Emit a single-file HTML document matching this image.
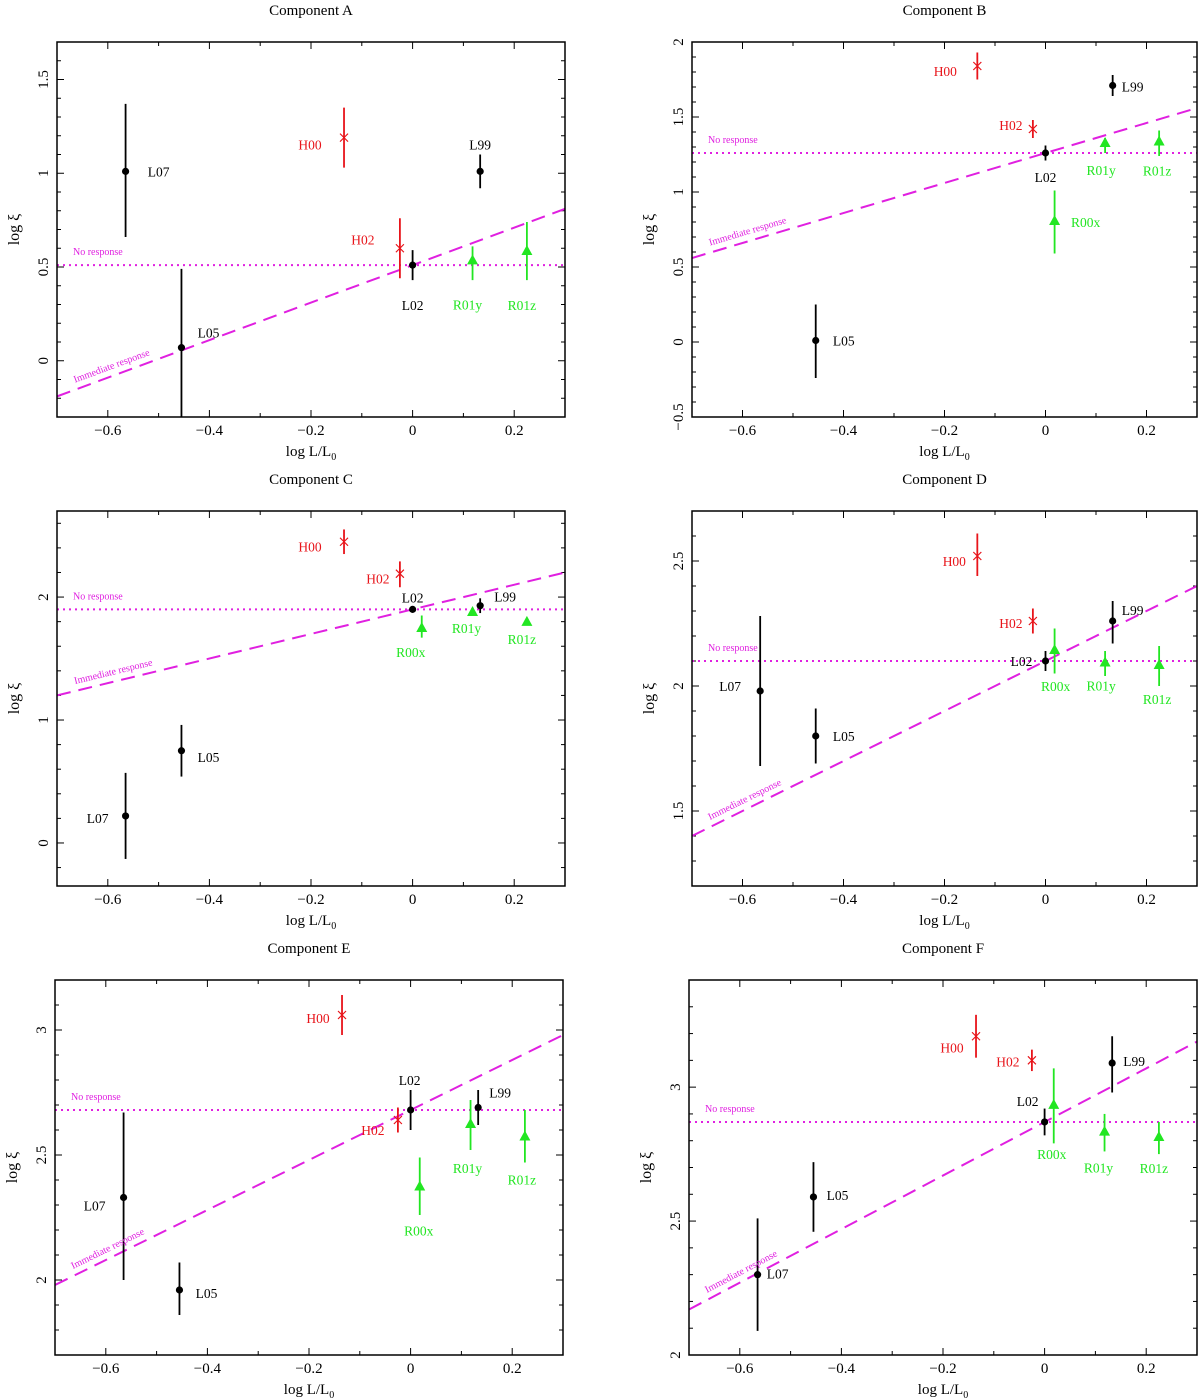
<!DOCTYPE html>
<html><head><meta charset="utf-8"><style>
html,body{margin:0;padding:0;background:#fff;}
svg{display:block;font-family:"Liberation Serif",serif;}
</style></head><body>
<svg id="chart" width="1200" height="1400" viewBox="0 0 1200 1400" xmlns="http://www.w3.org/2000/svg"></svg>
<script>
// ---- data ----
const sources = ['L07','L05','H00','H02','L02','L99','R00x','R01y','R01z'];
const xVals = [-0.565,-0.455,-0.135,-0.025,0,0.133,0.018,0.118,0.225];
const panelTitles = ['Component A','Component B','Component C','Component D','Component E','Component F'];
const yA = [1.01,0.07,1.19,0.60,0.51,1.01,null,0.53,0.58];
const loA = [0.66,-0.35,1.03,0.44,0.43,0.92,null,0.43,0.43];
const hiA = [1.37,0.49,1.35,0.76,0.59,1.10,null,0.61,0.74];
const yB = [null,0.01,1.84,1.42,1.26,1.71,0.80,1.32,1.33];
const loB = [null,-0.24,1.75,1.36,1.21,1.64,0.59,1.26,1.24];
const hiB = [null,0.25,1.93,1.48,1.31,1.78,1.01,1.36,1.41];
const yC = [0.22,0.75,2.45,2.19,1.90,1.93,1.74,1.87,1.79];
const loC = [-0.13,0.54,2.35,2.08,1.90,1.87,1.67,1.87,1.79];
const hiC = [0.57,0.96,2.55,2.29,1.90,1.99,1.85,1.87,1.79];
const yD = [1.98,1.80,2.52,2.26,2.10,2.26,2.14,2.09,2.08];
const loD = [1.68,1.69,2.44,2.21,2.06,2.17,2.05,2.04,2.00];
const hiD = [2.28,1.91,2.61,2.31,2.14,2.34,2.23,2.14,2.16];
const yE = [2.33,1.96,3.06,2.64,2.68,2.69,2.37,2.62,2.57];
const loE = [2.00,1.86,2.98,2.59,2.60,2.62,2.26,2.52,2.47];
const hiE = [2.67,2.07,3.14,2.69,2.76,2.76,2.49,2.72,2.68];
const yF = [2.30,2.59,3.19,3.10,2.87,3.09,2.93,2.83,2.81];
const loF = [2.09,2.46,3.11,3.06,2.82,2.98,2.79,2.76,2.75];
const hiF = [2.51,2.72,3.27,3.14,2.92,3.19,3.07,2.90,2.87];
const noResponse = [0.51,1.26,1.90,2.10,2.68,2.87];
const immediateSlope = [1,1,1,1,1,1];
const xTicks = [-0.6,-0.4,-0.2,0,0.2];
const xTickLabels = ['\u22120.6','\u22120.4','\u22120.2','0','0.2'];
const yTicksA = [0,0.5,1,1.5], yTicksB = [-0.5,0,0.5,1,1.5,2], yTicksC = [0,1,2];
const yTicksD = [1.5,2,2.5], yTicksE = [2,2.5,3], yTicksF = [2,2.5,3];

// ---- layout (not data) ----
const panels = [
 {L:57,R:565,T:42,B:417,ymin:-0.3,ymax:1.7,minorY:0.1,ys:yA,lo:loA,hi:hiA,yt:yTicksA,
  off:[[33,0],[27,-15],[-34,7],[-37,-9],[0,40],[0,-27],null,[-5,43],[-5,53]]},
 {L:692,R:1197,T:42,B:417,ymin:-0.5,ymax:2.0,minorY:0.1,ys:yB,lo:loB,hi:hiB,yt:yTicksB,
  off:[null,[28,0],[-32,5],[-22,-4],[0,24],[20,1],[31,0],[-4,26],[-2,28]]},
 {L:57,R:565,T:511,B:886,ymin:-0.35,ymax:2.7,minorY:0.2,ys:yC,lo:loC,hi:hiC,yt:yTicksC,
  off:[[-28,2],[27,6],[-34,5],[-22,5],[0,-12],[25,-9],[-11,23],[-6,15],[-5,16]]},
 {L:692,R:1197,T:511,B:886,ymin:1.2,ymax:2.7,minorY:0.1,ys:yD,lo:loD,hi:hiD,yt:yTicksD,
  off:[[-30,-5],[28,0],[-23,5],[-22,2],[-24,0],[20,-11],[1,35],[-4,22],[-2,33]]},
 {L:55,R:563,T:980,B:1355,ymin:1.7,ymax:3.2,minorY:0.1,ys:yE,lo:loE,hi:hiE,yt:yTicksE,
  off:[[-29,8],[27,3],[-24,3],[-25,10],[-1,-30],[22,-15],[-1,43],[-3,43],[-3,42]]},
 {L:689,R:1197,T:980,B:1355,ymin:2.0,ymax:3.4,minorY:0.1,ys:yF,lo:loF,hi:hiF,yt:yTicksF,
  off:[[20,-1],[24,-2],[-24,11],[-24,1],[-17,-21],[22,-2],[-2,48],[-6,35],[-5,30]]}
];
const NS='http://www.w3.org/2000/svg';
const svg=document.getElementById('chart');
function mk(tag,attrs,parent){const e=document.createElementNS(NS,tag);for(const k in attrs)e.setAttribute(k,attrs[k]);(parent||svg).appendChild(e);return e;}
function colorOf(s){return s[0]==='L'?'#000':(s[0]==='H'?'#e8141a':'#22e622');}
const letters='ABCDEF';
panels.forEach((p,pi)=>{
  const g=mk('g',{});
  
  
  const sx=v=>p.L+(v+0.7)/1.0*(p.R-p.L);
  const sy=v=>p.B-(v-p.ymin)/(p.ymax-p.ymin)*(p.B-p.T);
  const cy=v=>Math.max(p.T,Math.min(p.B,sy(v)));
  const cx=(p.L+p.R)/2;
  const t=mk('text',{x:cx,y:p.T-27,'text-anchor':'middle','font-size':15},g);t.textContent=panelTitles[pi];
  
  
  for(let i=-7;i<=3;i++){const v=i/10;const x=sx(v);const major=Math.abs(i%2)===0;const len=major?7:4;
    mk('line',{x1:x,y1:p.B,x2:x,y2:p.B-len,stroke:'#000','stroke-width':1},g);
    mk('line',{x1:x,y1:p.T,x2:x,y2:p.T+len,stroke:'#000','stroke-width':1},g);}
  const start=Math.ceil(p.ymin/p.minorY-1e-6);
  for(let i=start;i*p.minorY<=p.ymax+1e-6;i++){const v=i*p.minorY;const y=sy(v);
    const major=p.yt.some(tv=>Math.abs(tv-v)<1e-6);const len=major?7:4;
    mk('line',{x1:p.L,y1:y,x2:p.L+len,y2:y,stroke:'#000','stroke-width':1},g);
    mk('line',{x1:p.R,y1:y,x2:p.R-len,y2:y,stroke:'#000','stroke-width':1},g);}
  xTicks.forEach((v,i)=>{const tx=mk('text',{x:sx(v),y:p.B+18,'text-anchor':'middle','font-size':15},g);tx.textContent=xTickLabels[i];
    
    });
  p.yt.forEach(v=>{const y=sy(v);const ty=mk('text',{x:0,y:0,'text-anchor':'middle','font-size':15,transform:`translate(${p.L-9},${y}) rotate(-90)`},g);
    ty.textContent=String(v).replace('-','\u2212');
    
    });
  const xt=mk('text',{x:cx,y:p.B+39,'text-anchor':'middle','font-size':15},g);
  xt.innerHTML='log L/L<tspan font-size="10" dy="4">0</tspan>';
  
  
  const yt=mk('text',{x:0,y:0,'text-anchor':'middle','font-size':16,transform:`translate(${p.L-38},${(p.T+p.B)/2}) rotate(-90)`},g);
  yt.textContent='log \u03BE';
  
  
  const cid='clip'+pi;const cp=mk('clipPath',{id:cid},g);mk('rect',{x:p.L,y:p.T,width:p.R-p.L,height:p.B-p.T},cp);
  const plot=mk('g',{'clip-path':`url(#${cid})`},g);
  const nr=noResponse[pi];
  const nl=mk('line',{x1:p.L,y1:sy(nr),x2:p.R,y2:sy(nr),stroke:'#e020e0','stroke-width':2,'stroke-dasharray':'2,4'},plot);
  
  
  const nt=mk('text',{x:p.L+16,y:sy(nr)-10,'font-size':10,fill:'#e020e0'},g);nt.textContent='No response';
  
  
  const s=immediateSlope[pi];const f=x=>s*x+nr;
  const il=mk('line',{x1:sx(-0.7),y1:sy(f(-0.7)),x2:sx(0.3),y2:sy(f(0.3)),stroke:'#e020e0','stroke-width':2,'stroke-dasharray':'14,8'},plot);
  
  
  const ang=Math.atan2(sy(f(-0.7))-sy(f(0.3)),sx(0.3)-sx(-0.7))*180/Math.PI;
  const x0=p.L+18;const xv=-0.7+(x0-p.L)/(p.R-p.L);
  const it=mk('text',{x:0,y:0,'font-size':10,fill:'#e020e0',transform:`translate(${x0},${sy(f(xv))-7}) rotate(${-ang})`},g);
  it.textContent='Immediate response';
  
  
  sources.forEach((src,i)=>{
    const yv=p.ys[i];if(yv===null)return;
    const c=colorOf(src);const X=sx(xVals[i]);const Y=sy(yv);
    const pg=mk('g',{},plot);
    
    
    mk('line',{x1:X,y1:cy(p.lo[i]),x2:X,y2:cy(p.hi[i]),stroke:c,'stroke-width':1.8},pg);
    if(src[0]==='L'){mk('circle',{cx:X,cy:Y,r:3.6,fill:'#000'},pg);}
    else if(src[0]==='H'){mk('path',{d:`M${X-4},${Y-4}L${X+4},${Y+4}M${X-4},${Y+4}L${X+4},${Y-4}`,stroke:c,'stroke-width':1.2,fill:'none'},pg);}
    else{mk('path',{d:`M${X},${Y-7}L${X+5.5},${Y+3}L${X-5.5},${Y+3}Z`,fill:c},pg);}
    const o=p.off[i];if(o){const lt=mk('text',{x:X+o[0],y:Y+o[1]+5,'text-anchor':'middle','font-size':13.5,fill:c},g);lt.textContent=src;
      
      }
  });
  const fr=mk('rect',{x:p.L,y:p.T,width:p.R-p.L,height:p.B-p.T,fill:'none',stroke:'#000','stroke-width':1.5},g);
  
  
});
</script>
</body></html>
